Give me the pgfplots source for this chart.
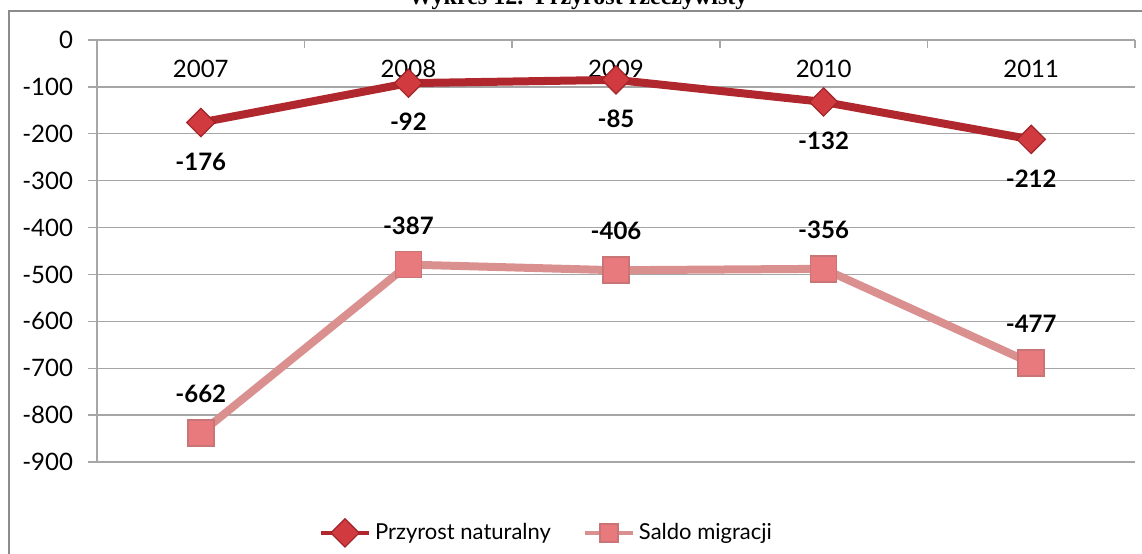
\documentclass[border=0pt]{standalone}
\usepackage{fontspec}
\setmainfont{Lato}
\newfontfamily\titlefont{Liberation Serif}
\usepackage{pgfplots}
\pgfplotsset{compat=1.18}
\definecolor{gridgray}{HTML}{A6A6A6}
\definecolor{framegray}{HTML}{8C8C8C}
\definecolor{natline}{HTML}{B0282D}
\definecolor{natfill}{HTML}{D13A3F}
\definecolor{natdraw}{HTML}{A02428}
\definecolor{migline}{HTML}{D9908F}
\definecolor{migfill}{HTML}{E8797C}
\definecolor{migdraw}{HTML}{C97577}
\begin{document}
\begin{tikzpicture}
\begin{scope}
\clip (0,0) rectangle (571pt,276.5pt);
\draw[framegray, line width=1pt] (4.25pt,-10pt) -- (4.25pt,270.75pt) -- (580pt,270.75pt);
\node[font=\titlefont\bfseries\fontsize{12}{14}\selectfont, anchor=base, inner sep=0pt] at (289pt,274pt) {Wykres 12.\ \ Przyrost rzeczywisty};
\end{scope}
\begin{axis}[
  at={(48.5pt,45.5pt)}, anchor=south west,
  scale only axis, width=519pt, height=211pt,
  xmin=-0.5, xmax=4.5, ymin=-900, ymax=0,
  axis x line*=top, axis y line*=left,
  axis line style={draw=gridgray, line width=0.8pt},
  /pgf/number format/assume math mode=true,
  font=\fontsize{12}{14}\selectfont,
  xtick={0,1,2,3,4}, xticklabels={2007,2008,2009,2010,2011},
  major x tick style={draw=none},
  minor xtick={0.5,1.5,2.5,3.5,4.5},
  minor tick length=4pt,
  minor x tick style={gridgray, line width=0.8pt, yshift=-4pt},
  xticklabel style={anchor=center, yshift=-19pt},
  ytick={-900,-800,...,0},
  ymajorgrids, grid style={gridgray, line width=0.7pt},
  tick align=outside, major tick length=4.5pt,
  ytick style={gridgray, line width=0.7pt},
  yticklabel style={anchor=east, xshift=-4pt},
  clip=false,
  legend style={at={(axis description cs:0.434,-0.168)}, anchor=center, draw=none, fill=none,
    legend columns=2, font=\fontsize{11}{13}\selectfont,
    /tikz/every even column/.append style={column sep=14pt}},
  legend image code/.code={\draw[mark repeat=2,mark phase=2,#1, line width=2pt] plot coordinates {(0pt,0pt) (12pt,0pt) (24pt,0pt)};},
  every node near coord/.append style={font=\bfseries\fontsize{12}{14}\selectfont, text=black, anchor=center},
]
\addplot[natline, line width=4pt, mark=square*, mark size=5pt,
  mark options={rotate=45, fill=natfill, draw=natdraw, line width=0.6pt},
  nodes near coords, point meta=explicit,
  every node near coord/.append style={yshift=-19.5pt}]
  coordinates {(0,-176) [-176] (1,-92) [-92] (2,-85) [-85] (3,-132) [-132] (4,-212) [-212]};
\addlegendentry{Przyrost naturalny}
% stacked line: plotted values are cumulative (natural + migration), labels show migration
\addplot[migline, line width=4pt, mark=square*, mark size=6.5pt,
  mark options={fill=migfill, draw=migdraw, line width=0.8pt},
  legend image post style={mark size=4.5pt},
  nodes near coords, point meta=explicit,
  every node near coord/.append style={yshift=19.5pt}]
  coordinates {(0,-838) [-662] (1,-479) [-387] (2,-491) [-406] (3,-488) [-356] (4,-689) [-477]};
\addlegendentry{Saldo migracji}
\end{axis}
\pgfresetboundingbox
\useasboundingbox (0,0) rectangle (571pt,276.5pt);
\end{tikzpicture}
\end{document}
